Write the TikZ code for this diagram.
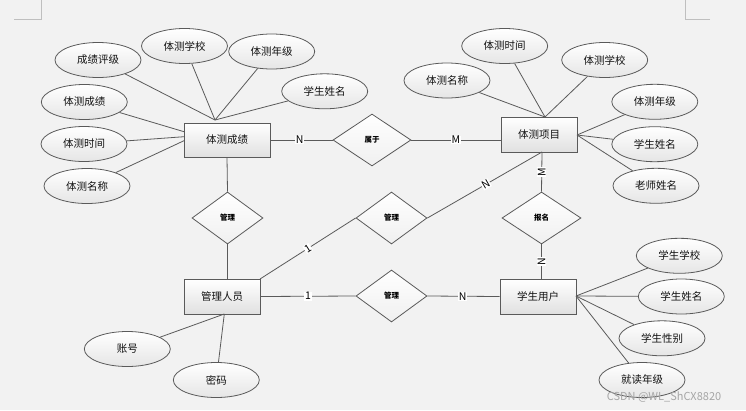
\documentclass[tikz,border=0pt]{standalone}
\usepackage{fontspec}
\setmainfont{Noto Sans CJK SC}
\usetikzlibrary{shapes.geometric,calc}
\definecolor{bg}{HTML}{F2F2F2}
\definecolor{ln}{HTML}{5A5A5A}
\definecolor{txt}{HTML}{111111}
\tikzset{
  ent/.style={draw=ln,line width=0.8pt,rectangle,inner sep=0pt,minimum width=76pt,minimum height=35pt,
    top color=white,bottom color=black!12,text=txt,font=\fontsize{10.5}{12}\selectfont},
  attr/.style={draw=ln,line width=0.8pt,ellipse,inner sep=0pt,minimum width=86pt,minimum height=35pt,
    top color=white,bottom color=black!10,text=txt,font=\fontsize{10.5}{12}\selectfont},
  rel/.style={draw=ln,line width=0.8pt,diamond,inner sep=0pt,minimum width=71pt,minimum height=52pt,
    top color=white,bottom color=black!6,text=black,font=\fontsize{7.5}{9}\selectfont\bfseries},
  conn/.style={draw=ln,line width=0.8pt},
  card/.style={fill=white,inner sep=0.6pt,text=black,font=\fontsize{10.5}{11}\selectfont},
  cornermark/.style={draw=black!25,line width=0.7pt}
}
\begin{document}
\begin{tikzpicture}[x=1pt,y=-1pt]
\fill[bg] (0,0) rectangle (746,410);
\useasboundingbox (0,0) rectangle (746,410);
% corner marks
\draw[cornermark] (14,19) -- (41,19) -- (41,0);
\draw[cornermark] (710,19) -- (685,19) -- (685,0);

% entities
\node[ent,minimum width=86pt,minimum height=34pt] (e1) at (227,140) {体测成绩};
\node[ent] (e2) at (539,134.5) {体测项目};
\node[ent] (e3) at (222,296.5) {管理人员};
\node[ent] (e4) at (538,296.5) {学生用户};

% relationships
\node[rel,minimum width=78pt] (r1) at (372,140) {属于};
\node[rel] (d1) at (227.5,218) {管理};
\node[rel] (d2) at (391.5,218) {管理};
\node[rel] (d3) at (391.5,296) {管理};
\node[rel,minimum width=79pt] (d4) at (541.5,218) {报名};

% attributes of e1
\node[attr] (a1) at (98,60) {成绩评级};
\node[attr] (a2) at (184.5,46) {体测学校};
\node[attr] (a3) at (271.7,51.5) {体测年级};
\node[attr] (a4) at (324.7,91.3) {学生姓名};
\node[attr] (a5) at (84.3,102) {体测成绩};
\node[attr] (a6) at (84,144) {体测时间};
\node[attr] (a7) at (87,186) {体测名称};

% attributes of e2
\node[attr] (b1) at (447,80.5) {体测名称};
\node[attr] (b2) at (504.7,46) {体测时间};
\node[attr] (b3) at (604.7,60) {体测学校};
\node[attr] (b4) at (654.8,101.8) {体测年级};
\node[attr] (b5) at (654.8,144.2) {学生姓名};
\node[attr] (b6) at (656,185.8) {老师姓名};

% attributes of e4
\node[attr] (s1) at (679.3,255.8) {学生学校};
\node[attr] (s2) at (681.3,296.5) {学生姓名};
\node[attr] (s3) at (662,338.3) {学生性别};
\node[attr] (s4) at (642,380) {就读年级};

% attributes of e3
\node[attr] (m1) at (127.3,349) {账号};
\node[attr] (m2) at (216.3,380) {密码};

% anchor points
\coordinate (e1t) at (215,120);
\coordinate (e1l1) at (184,131.7);
\coordinate (e1l2) at (184,136.7);
\coordinate (e1l3) at (184,140.7);
\coordinate (e2t) at (545,117);
\coordinate (e2r) at (577,135);
\coordinate (e2b) at (542,152);
\coordinate (e4r) at (576,296);
\coordinate (e3b) at (224.3,314);
\coordinate (e3tr) at (260,279);

% attribute connectors
\foreach \a in {a1,a2,a3,a4} \draw[conn] (\a) -- (e1t);
\draw[conn] (a5) -- (e1l1);
\draw[conn] (a6) -- (e1l2);
\draw[conn] (a7) -- (e1l3);
\foreach \a in {b1,b2,b3} \draw[conn] (\a) -- (e2t);
\foreach \a in {b4,b5,b6} \draw[conn] (\a) -- (e2r);
\foreach \a in {s1,s2,s3,s4} \draw[conn] (\a) -- (e4r);
\foreach \a in {m1,m2} \draw[conn] (\a) -- (e3b);

% relationship connectors
\draw[conn] (e1.east) -- node[card,pos=0.47] {N} (r1.west);
\draw[conn] (r1.east) -- node[card,pos=0.5] {M} (r1.east -| e2.west);
\draw[conn] (e1.south) -- (d1.north);
\draw[conn] (d1.south) -- (d1.south |- e3.north);
\draw[conn] (e3tr) -- node[card,sloped,pos=0.5] {1} (d2.west);
\draw[conn] (d2.east) -- node[card,sloped,pos=0.51] {N} (e2b);
\draw[conn] (e3.east) -- node[card,pos=0.5] {1} (d3.west);
\draw[conn] (d3.east) -- node[card,pos=0.49] {N} (e4.west);
\draw[conn] (e2b) -- node[card,rotate=90,pos=0.5] {M} (d4.north);
\draw[conn] (d4.south) -- node[card,rotate=90,pos=0.5] {N} (d4.south |- e4.north);

% watermark
\node[text=black!35,font=\fontsize{11}{12}\selectfont] (wm) at (664,397) {CSDN @WL\_ShCX8820};
\end{tikzpicture}
\end{document}
